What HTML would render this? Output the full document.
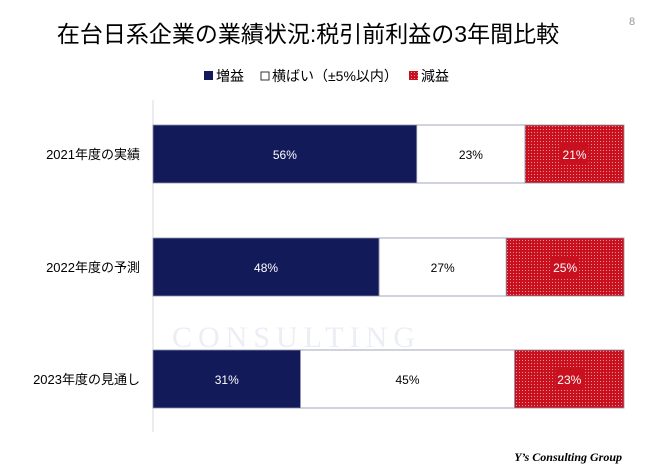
<!DOCTYPE html>
<html><head><meta charset="utf-8"><style>
body{margin:0;background:#fff;font-family:"Liberation Sans","Noto Sans CJK JP",sans-serif;}
#wrap{position:relative;width:650px;height:473px;overflow:hidden;background:#fff}
</style></head><body>
<div id="wrap">
<svg id="chart" width="650" height="473">
<defs>
<pattern id="dots" width="3" height="3" patternUnits="userSpaceOnUse">
<rect width="3" height="3" fill="#c8101e"/><rect x="0" y="0" width="1" height="1" fill="#f09090"/>
</pattern>
</defs>
<text x="172" y="347" font-size="30" fill="#eceef5" font-family="Liberation Serif,serif" letter-spacing="6">CONSULTING</text>
<text x="308" y="42" font-size="23" text-anchor="middle" fill="#000">在台日系企業の業績状況:税引前利益の3年間比較</text>
<text x="629" y="25" font-size="11" fill="#999">8</text>
<g>
<rect x="204" y="71" width="9" height="9" fill="#121a5a"/>
<text x="216" y="81" font-size="14">増益</text>
<rect x="261" y="72" width="8" height="8" fill="#fff" stroke="#333"/>
<text x="272" y="81" font-size="14">横ばい（±5%以内）</text>
<rect x="409" y="71" width="9" height="9" fill="url(#dots)"/>
<text x="421" y="81" font-size="14">減益</text>
</g>
<line x1="153" y1="100" x2="153" y2="432" stroke="#d9d9d9"/>
<g id="bars"></g>
<text x="622" y="461" font-size="12" text-anchor="end" font-family="Liberation Serif,serif" font-weight="bold" font-style="italic">Y’s Consulting Group</text>
</svg>
<script>
const categories=["2021年度の実績","2022年度の予測","2023年度の見通し"];
const increase=[56,48,31];
const flat=[23,27,45];
const decrease=[21,25,23];
const ns="http://www.w3.org/2000/svg";
const g=document.getElementById("bars");
const x0=153,w=471,rowY=[125,238,350],bh=58;
function mk(t,a){const e=document.createElementNS(ns,t);for(const k in a)e.setAttribute(k,a[k]);return e;}
categories.forEach((c,i)=>{
  const y=rowY[i];
  const total=increase[i]+flat[i]+decrease[i];
  const xs=v=>v/total*w;
  const lab=mk("text",{x:140,y:y+bh/2+5,"font-size":13,"text-anchor":"end"});
  lab.textContent=c;
  
  
  g.appendChild(lab);
  const segs=[[increase[i],"#121a5a","#fff",null],[flat[i],"#fff","#000",null],[decrease[i],"url(#dots)","#fff","#c8101e"]];
  const names=['bar-increase','bar-flat','bar-decrease'];
  let x=x0;
  segs.forEach((s,j)=>{
    const ww=xs(s[0]);
    const r=mk("rect",{x:x,y:y,width:ww,height:bh,fill:s[1],stroke:"#8a8fa8","stroke-width":0.8});
    
    
    g.appendChild(r);
    const cx=x+ww/2;
    if(s[3]){const b=mk("rect",{x:cx-14,y:y+bh/2-10,width:28,height:20,fill:s[3]});
      
      
      g.appendChild(b);}
    const t=mk("text",{x:cx,y:y+bh/2+5,"font-size":12,"text-anchor":"middle",fill:s[2]});
    t.textContent=s[0]+"%";
    
    
    g.appendChild(t);
    x+=ww;
  });
});
</script>
</div>
</body></html>
